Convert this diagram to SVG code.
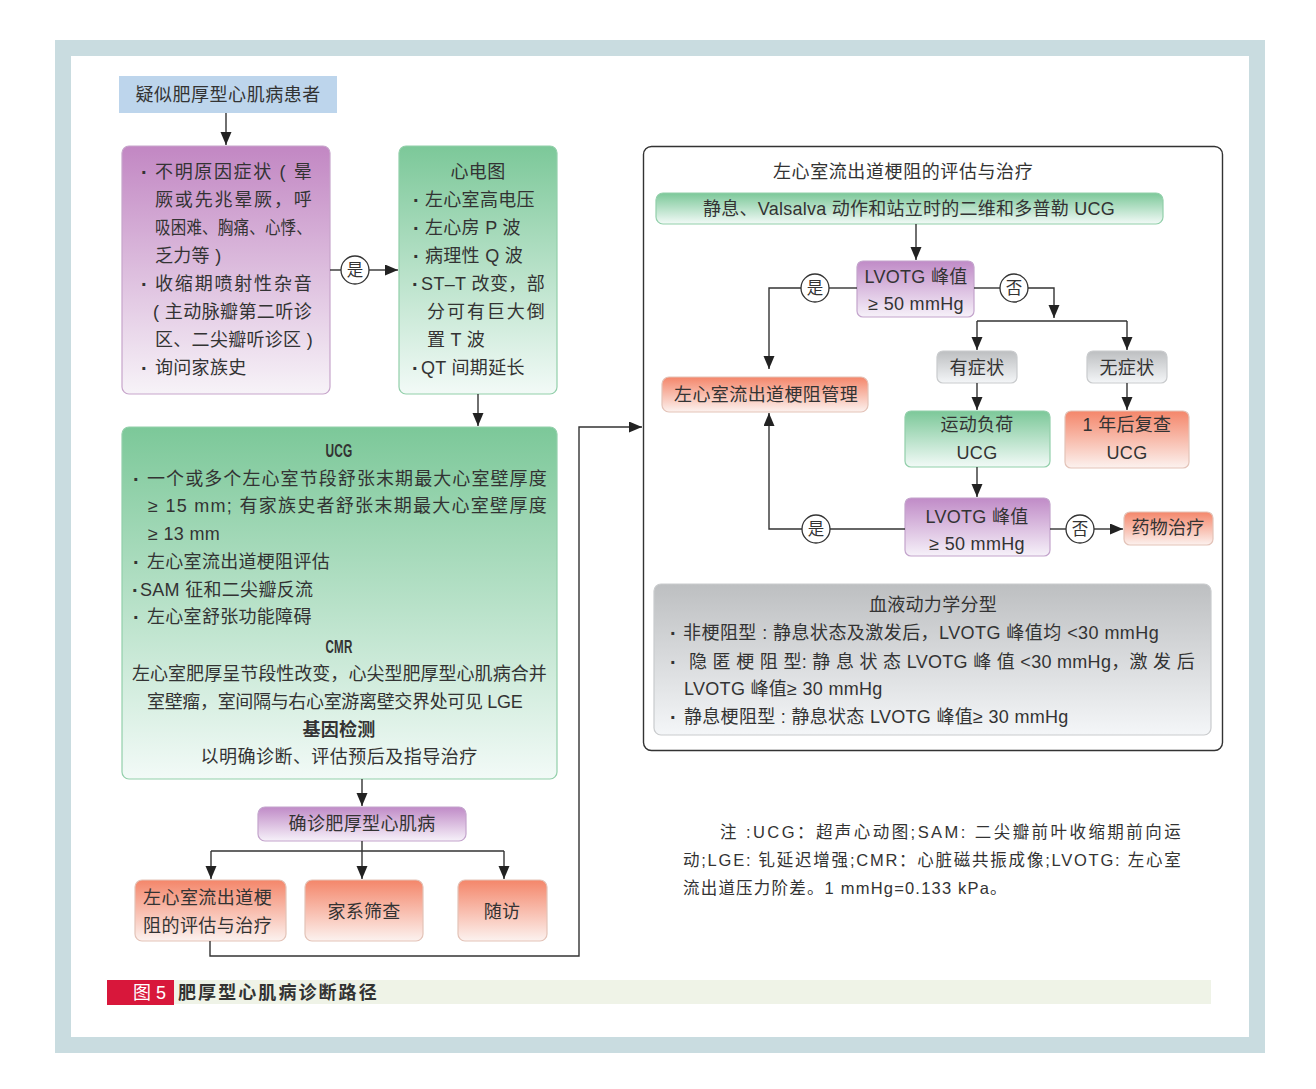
<svg xmlns="http://www.w3.org/2000/svg" width="1316" height="1089" viewBox="0 0 1316 1089">
<style>
.t{font-family:"Liberation Sans","Noto Sans CJK SC",sans-serif;font-size:18px;fill:#333;letter-spacing:0.3px}
.c{text-anchor:middle}
.b{font-weight:bold}
.n{font-size:16.5px}
.d{font-weight:bold;font-size:20px}
.ln{fill:none;stroke:#333;stroke-width:1.4}
.ar{fill:none;stroke:#333;stroke-width:1.4;marker-end:url(#ah)}
.cir{fill:#fff;stroke:#333;stroke-width:1.3}
.pur{fill:url(#gP);stroke:#c7a5cb;stroke-width:1.2}
.grn{fill:url(#gG);stroke:#92cfaa;stroke-width:1.2}
.org{fill:url(#gO);stroke:#e3c3b8;stroke-width:1.2}
.gry{fill:url(#gY);stroke:#c9cbcd;stroke-width:1.2}
.lav{fill:url(#gL);stroke:#c3a4cc;stroke-width:1.2}
</style>
<defs>
<linearGradient id="gP" x1="0" y1="0" x2="0" y2="1"><stop offset="0" stop-color="#c287c3"/><stop offset="1" stop-color="#f7f3f8"/></linearGradient>
<linearGradient id="gG" x1="0" y1="0" x2="0" y2="1"><stop offset="0" stop-color="#7cc899"/><stop offset="1" stop-color="#f2faf7"/></linearGradient>
<linearGradient id="gO" x1="0" y1="0" x2="0" y2="1"><stop offset="0" stop-color="#f4866a"/><stop offset="1" stop-color="#fcf2ef"/></linearGradient>
<linearGradient id="gY" x1="0" y1="0" x2="0" y2="1"><stop offset="0" stop-color="#bdbfc1"/><stop offset="1" stop-color="#f4f6f8"/></linearGradient>
<linearGradient id="gL" x1="0" y1="0" x2="0" y2="1"><stop offset="0" stop-color="#c08bc7"/><stop offset="1" stop-color="#f6f1f9"/></linearGradient>
<marker id="ah" markerUnits="userSpaceOnUse" markerWidth="14" markerHeight="12" refX="13" refY="5.5" orient="auto"><path d="M0,0 L13,5.5 L0,11 z" fill="#222"/></marker>
</defs>

<rect x="0" y="0" width="1316" height="1089" fill="#fff"/>
<rect x="55" y="40" width="1210" height="1013" fill="#c9dce0"/>
<rect x="71" y="56" width="1178" height="981" fill="#fff"/>

<g id="start">
<rect x="119" y="76" width="218" height="37" fill="#bdd5ec"/>
<text class="t c" x="228" y="101" textLength="185" lengthAdjust="spacing">疑似肥厚型心肌病患者</text>
</g>

<g id="symptoms">
<rect class="pur" x="122" y="146" width="208" height="248" rx="7"/>
<text class="t d" x="141" y="179">·</text>
<text class="t" x="155" y="178" textLength="157" lengthAdjust="spacing">不明原因症状 ( 晕</text>
<text class="t" x="155" y="206" textLength="157" lengthAdjust="spacing">厥或先兆晕厥，呼</text>
<text class="t" x="155" y="234" textLength="157" lengthAdjust="spacingAndGlyphs">吸困难、胸痛、心悸、</text>
<text class="t" x="155" y="262">乏力等 )</text>
<text class="t d" x="141" y="291">·</text>
<text class="t" x="155" y="290" textLength="157" lengthAdjust="spacing">收缩期喷射性杂音</text>
<text class="t" x="153" y="318" textLength="159" lengthAdjust="spacing">( 主动脉瓣第二听诊</text>
<text class="t" x="155" y="346" textLength="158" lengthAdjust="spacing">区、二尖瓣听诊区 )</text>
<text class="t d" x="141" y="375">·</text>
<text class="t" x="155" y="374">询问家族史</text>
</g>

<g id="ecg">
<rect class="grn" x="399" y="146" width="158" height="248" rx="7"/>
<text class="t c" x="478" y="178">心电图</text>
<text class="t d" x="413" y="207">·</text>
<text class="t" x="425" y="206">左心室高电压</text>
<text class="t d" x="413" y="235">·</text>
<text class="t" x="425" y="234">左心房 P 波</text>
<text class="t d" x="413" y="263">·</text>
<text class="t" x="425" y="262">病理性 Q 波</text>
<text class="t d" x="412" y="291">·</text>
<text class="t" x="421" y="290" textLength="124" lengthAdjust="spacing">ST–T 改变，部</text>
<text class="t" x="427" y="318" textLength="118" lengthAdjust="spacing">分可有巨大倒</text>
<text class="t" x="427" y="346">置 T 波</text>
<text class="t d" x="412" y="375">·</text>
<text class="t" x="421" y="374">QT 间期延长</text>
</g>

<g id="ucg">
<rect class="grn" x="122" y="427" width="435" height="352" rx="7"/>
<text class="t c b" x="339" y="457" textLength="27" lengthAdjust="spacingAndGlyphs">UCG</text>
<text class="t d" x="133" y="486">·</text>
<text class="t" x="147" y="485" textLength="400" lengthAdjust="spacing">一个或多个左心室节段舒张末期最大心室壁厚度</text>
<text class="t" x="148" y="512" textLength="399" lengthAdjust="spacing">≥ 15 mm; 有家族史者舒张末期最大心室壁厚度</text>
<text class="t" x="148" y="540">≥ 13 mm</text>
<text class="t d" x="133" y="569">·</text>
<text class="t" x="147" y="568">左心室流出道梗阻评估</text>
<text class="t d" x="132" y="597">·</text>
<text class="t" x="140" y="596">SAM 征和二尖瓣反流</text>
<text class="t d" x="133" y="624">·</text>
<text class="t" x="147" y="623">左心室舒张功能障碍</text>
<text class="t c b" x="339" y="653" textLength="27" lengthAdjust="spacingAndGlyphs">CMR</text>
<text class="t" x="132" y="680" textLength="415" lengthAdjust="spacing">左心室肥厚呈节段性改变，心尖型肥厚型心肌病合并</text>
<text class="t" x="147" y="708" textLength="376" lengthAdjust="spacing">室壁瘤，室间隔与右心室游离壁交界处可见 LGE</text>
<text class="t c b" x="339" y="736">基因检测</text>
<text class="t c" x="339" y="763" textLength="277" lengthAdjust="spacing">以明确诊断、评估预后及指导治疗</text>
</g>

<g id="confirm">
<rect class="lav" x="258" y="807" width="208" height="34" rx="7"/>
<text class="t c" x="362" y="830" textLength="147" lengthAdjust="spacing">确诊肥厚型心肌病</text>
</g>

<g id="lvoto-eval">
<rect class="org" x="135" y="880" width="151" height="61" rx="7"/>
<text class="t" x="143" y="904" textLength="129" lengthAdjust="spacing">左心室流出道梗</text>
<text class="t" x="143" y="932" textLength="129" lengthAdjust="spacing">阻的评估与治疗</text>
</g>
<g id="family">
<rect class="org" x="305" y="880" width="118" height="61" rx="7"/>
<text class="t c" x="364" y="918">家系筛查</text>
</g>
<g id="followup">
<rect class="org" x="458" y="880" width="89" height="61" rx="7"/>
<text class="t c" x="502" y="918">随访</text>
</g>

<g id="panel">
<rect x="643.5" y="146.5" width="579" height="604" rx="8" fill="#fff" stroke="#333" stroke-width="1.4"/>
<text class="t c" x="903" y="178" textLength="260" lengthAdjust="spacing">左心室流出道梗阻的评估与治疗</text>
</g>

<g id="echo">
<rect class="grn" x="656" y="193" width="507" height="31" rx="7"/>
<text class="t c" x="909" y="215" textLength="412" lengthAdjust="spacing">静息、Valsalva 动作和站立时的二维和多普勒 UCG</text>
</g>

<g id="lvotg1">
<rect class="lav" x="857" y="261" width="117" height="56" rx="6"/>
<text class="t c" x="916" y="283">LVOTG 峰值</text>
<text class="t c" x="916" y="310">≥ 50 mmHg</text>
</g>

<g id="manage">
<rect class="org" x="662" y="377" width="206" height="35" rx="7"/>
<text class="t c" x="766" y="401" textLength="184" lengthAdjust="spacing">左心室流出道梗阻管理</text>
</g>

<g id="symp">
<rect class="gry" x="937" y="351" width="80" height="32" rx="6"/>
<text class="t c" x="977" y="374">有症状</text>
</g>
<g id="nosymp">
<rect class="gry" x="1087" y="351" width="80" height="32" rx="6"/>
<text class="t c" x="1127" y="374">无症状</text>
</g>

<g id="exercise">
<rect class="grn" x="905" y="411" width="145" height="56" rx="6"/>
<text class="t c" x="977" y="431">运动负荷</text>
<text class="t c" x="977" y="459">UCG</text>
</g>
<g id="recheck">
<rect class="org" x="1065" y="411" width="124" height="57" rx="6"/>
<text class="t c" x="1127" y="431">1 年后复查</text>
<text class="t c" x="1127" y="459">UCG</text>
</g>

<g id="lvotg2">
<rect class="lav" x="905" y="498" width="145" height="58" rx="6"/>
<text class="t c" x="977" y="523">LVOTG 峰值</text>
<text class="t c" x="977" y="550">≥ 50 mmHg</text>
</g>

<g id="drug">
<rect class="org" x="1124" y="512" width="89" height="33" rx="6"/>
<text class="t c" x="1168" y="534">药物治疗</text>
</g>

<g id="hemo">
<rect class="gry" x="654" y="584" width="557" height="151" rx="7"/>
<text class="t c" x="933" y="611">血液动力学分型</text>
<text class="t d" x="670" y="640">·</text>
<text class="t" x="683" y="639" textLength="476" lengthAdjust="spacing">非梗阻型 : 静息状态及激发后，LVOTG 峰值均 &lt;30 mmHg</text>
<text class="t d" x="670" y="669">·</text>
<text class="t" x="689" y="668" textLength="506" lengthAdjust="spacing">隐 匿 梗 阻 型: 静 息 状 态 LVOTG 峰 值 &lt;30 mmHg，激 发 后</text>
<text class="t" x="684" y="695">LVOTG 峰值≥ 30 mmHg</text>
<text class="t d" x="670" y="724">·</text>
<text class="t" x="684" y="723">静息梗阻型 : 静息状态 LVOTG 峰值≥ 30 mmHg</text>
</g>

<g id="note">
<text class="t n" x="720" y="838" textLength="461" lengthAdjust="spacing">注 :UCG：超声心动图;SAM: 二尖瓣前叶收缩期前向运</text>
<text class="t n" x="683" y="866" textLength="498" lengthAdjust="spacing">动;LGE: 钆延迟增强;CMR：心脏磁共振成像;LVOTG: 左心室</text>
<text class="t n" x="683" y="894" style="letter-spacing:1.2px">流出道压力阶差。1 mmHg=0.133 kPa。</text>
</g>

<g id="caption">
<rect x="107" y="980" width="67" height="25" fill="#d8173b"/>
<rect x="174" y="980" width="1037" height="24" fill="#eff3e7"/>
<text class="t" x="133" y="999" style="fill:#fff;letter-spacing:0">图 5</text>
<text class="t b" x="178" y="999" textLength="199" lengthAdjust="spacing">肥厚型心肌病诊断路径</text>
</g>

<g id="connectors">
<path class="ar" d="M226,113 V145"/>
<path class="ln" d="M330,270 H341"/>
<path class="ar" d="M369,270 H398"/>
<path class="ar" d="M478,394 V426"/>
<path class="ar" d="M362,779 V806"/>
<path class="ln" d="M362,841 V851 M211,851 H504"/>
<path class="ar" d="M211,851 V879"/>
<path class="ar" d="M362,851 V879"/>
<path class="ar" d="M504,851 V879"/>
<path class="ar" d="M210,941 V956 H579 V427 H642"/>
<path class="ar" d="M916,224 V260"/>
<path class="ln" d="M857,288 H829"/>
<path class="ar" d="M801,288 H769 V369"/>
<path class="ln" d="M974,288 H1000"/>
<path class="ar" d="M1028,288 H1054 V318"/>
<path class="ln" d="M977,321 H1127"/>
<path class="ar" d="M977,321 V350"/>
<path class="ar" d="M1127,321 V350"/>
<path class="ar" d="M977,383 V410"/>
<path class="ar" d="M1127,383 V410"/>
<path class="ar" d="M977,467 V497"/>
<path class="ln" d="M905,529 H830"/>
<path class="ar" d="M802,529 H769 V413"/>
<path class="ln" d="M1050,529 H1066"/>
<path class="ar" d="M1094,529 H1123"/>
<circle class="cir" cx="355" cy="270" r="14"/>
<text class="t c n" x="355" y="276" style="letter-spacing:0">是</text>
<circle class="cir" cx="815" cy="288" r="14"/>
<text class="t c n" x="815" y="294" style="letter-spacing:0">是</text>
<circle class="cir" cx="1014" cy="288" r="14"/>
<text class="t c n" x="1014" y="294" style="letter-spacing:0">否</text>
<circle class="cir" cx="816" cy="529" r="14"/>
<text class="t c n" x="816" y="535" style="letter-spacing:0">是</text>
<circle class="cir" cx="1080" cy="529" r="14"/>
<text class="t c n" x="1080" y="535" style="letter-spacing:0">否</text>
</g>
</svg>
